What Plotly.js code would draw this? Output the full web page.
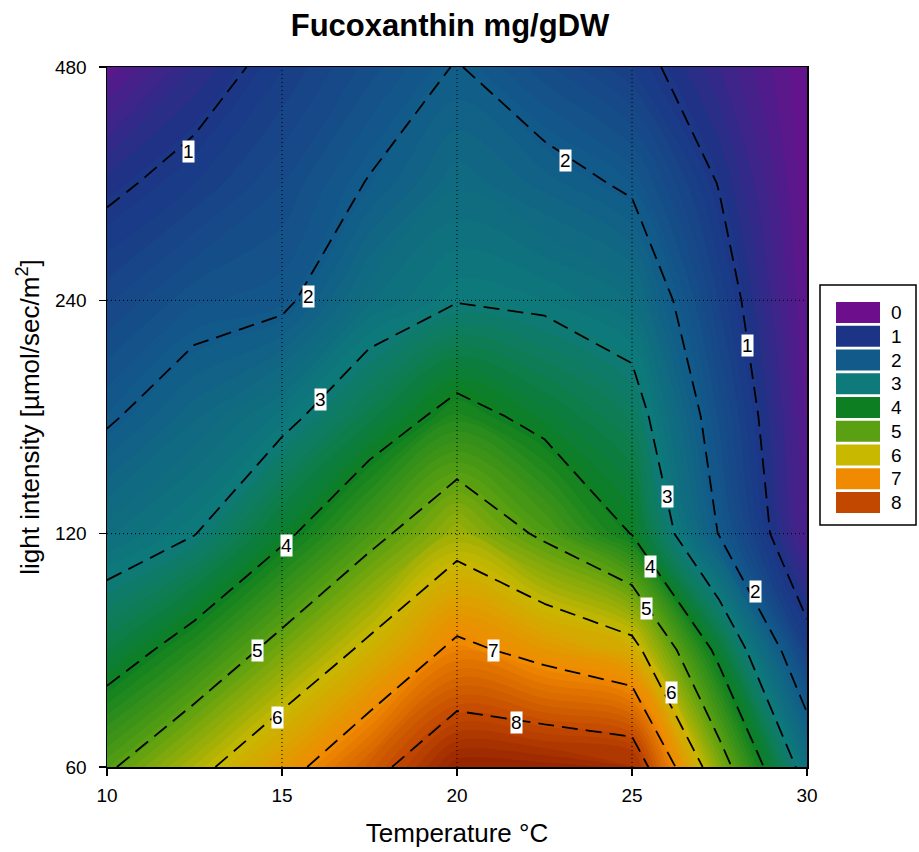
<!DOCTYPE html>
<html>
<head>
<meta charset="utf-8">
<script src="https://cdn.plot.ly/plotly-3.0.1.min.js"></script>
<style>
  html, body { margin: 0; padding: 0; background: #ffffff; }
  #chart { width: 919px; height: 852px; }
</style>
</head>
<body>
<div id="chart"></div>
<script>
// ---- data ----
const temperature = [10, 12.5, 15, 17.5, 20, 22.5, 25, 27.5, 30];
const lightIntensity = [60, 85, 120, 170, 240, 340, 480];

// Fucoxanthin (mg/gDW) for each light intensity row, across temperatures
const fxAt60  = [4.9, 5.78, 6.7, 7.74, 8.75, 8.72, 8.6, 5.38, 2.65];
const fxAt85  = [3.6, 4.34, 5.26, 6.17, 7.18, 6.74, 6.28, 3.77, 1.25];
const fxAt120 = [2.6, 2.98, 3.85, 4.78, 5.64, 4.87, 3.98, 1.96, 0.3];
const fxAt170 = [1.93, 2.37, 2.82, 3.54, 4.26, 3.79, 3.32, 1.64, 0.2];
const fxAt240 = [1.42, 1.77, 1.88, 2.62, 2.97, 2.88, 2.62, 1.30, 0.1];
const fxAt340 = [0.89, 1.2, 1.56, 2.03, 2.49, 2.23, 1.91, 0.97, 0.03];
const fxAt480 = [0.15, 0.72, 1.19, 1.62, 2.03, 1.59, 1.2, 0.6, 0.0];

const xTickValues = [10, 15, 20, 25, 30];
const yTickValues = [60, 120, 240, 480];

const legendLabels = ['0', '1', '2', '3', '4', '5', '6', '7', '8'];
const legendColors = ['#6d0f8d', '#1c3486', '#125a8a', '#0e7a7a', '#0d7f22',
                      '#5aa012', '#c8b800', '#f08a00', '#c24800'];

// contour labels (text, temperature, light)
const contourLabelText  = ['1', '2', '2', '1', '3', '3', '4', '4', '5', '5', '2', '6', '6', '7', '8'];
const contourLabelTemp  = [12.34, 15.77, 23.11, 28.31, 16.11, 26.0, 15.14, 25.54, 14.31, 25.4, 28.54, 14.86, 26.14, 21.03, 21.71];
const contourLabelLight = [374, 243, 364, 210, 179, 134, 115.9, 109, 84.9, 96, 101, 69.6, 74.9, 84.9, 68.4];

// ---- build ----
const fucoxanthin = [fxAt60, fxAt85, fxAt120, fxAt170, fxAt240, fxAt340, fxAt480];
const toY = v => Math.log2(v / 60);   // light axis is doubling-spaced
const yVals = lightIntensity.map(toY);

const colorscale = [
  [0 / 9, '#6d0f8d'],
  [1 / 9, '#1c3486'],
  [2 / 9, '#125a8a'],
  [3 / 9, '#0e7a7a'],
  [4 / 9, '#0d7f22'],
  [5 / 9, '#5aa012'],
  [6 / 9, '#c8b800'],
  [7 / 9, '#f08a00'],
  [8 / 9, '#c24800'],
  [9 / 9, '#7f1200']
];

const fillTrace = {
  type: 'contour',
  x: temperature,
  y: yVals,
  z: fucoxanthin,
  colorscale: colorscale,
  autocontour: false,
  contours: { start: 0, end: 9, size: 0.12, coloring: 'fill', showlines: false },
  line: { width: 0 },
  showscale: false,
  hoverinfo: 'skip'
};

const lineTrace = {
  type: 'contour',
  x: temperature,
  y: yVals,
  z: fucoxanthin,
  autocontour: false,
  contours: { start: 1, end: 8, size: 1, coloring: 'none' },
  line: { color: '#000000', width: 1.8, dash: '16px,8px', smoothing: 0 },
  showscale: false,
  hoverinfo: 'skip'
};

const FONT = '"Liberation Sans", Arial, sans-serif';
const shapes = [];
const annotations = [];

// dotted grid lines drawn over the fill
xTickValues.slice(1, -1).forEach(t => shapes.push({
  type: 'line', xref: 'x', yref: 'paper', x0: t, x1: t, y0: 0, y1: 1,
  line: { color: '#000000', width: 1, dash: '1px,3px' }, layer: 'above'
}));
yTickValues.slice(1, -1).forEach(v => shapes.push({
  type: 'line', xref: 'paper', yref: 'y', x0: 0, x1: 1, y0: toY(v), y1: toY(v),
  line: { color: '#000000', width: 1, dash: '1px,3px' }, layer: 'above'
}));

// contour labels
contourLabelText.forEach((t, i) => annotations.push({
  x: contourLabelTemp[i], y: toY(contourLabelLight[i]), xref: 'x', yref: 'y',
  text: t, showarrow: false, bgcolor: '#ffffff', borderpad: 0,
  font: { family: FONT, size: 19, color: '#000000' }
}));

// custom legend box
const px2x = p => (p - 107) / 700;
const py2y = p => (767 - p) / 700;
shapes.push({
  type: 'rect', xref: 'paper', yref: 'paper',
  x0: px2x(820), x1: px2x(916), y0: py2y(525), y1: py2y(285),
  line: { color: '#000000', width: 1.5 }, fillcolor: '#ffffff'
});
legendLabels.forEach((lab, i) => {
  const top = 302 + 23.75 * i;
  shapes.push({
    type: 'rect', xref: 'paper', yref: 'paper',
    x0: px2x(836), x1: px2x(880), y0: py2y(top + 21), y1: py2y(top),
    line: { width: 0 }, fillcolor: legendColors[i]
  });
  annotations.push({
    xref: 'paper', yref: 'paper', x: px2x(889), y: py2y(top + 10.5),
    xanchor: 'left', yanchor: 'middle', text: lab, showarrow: false,
    font: { family: FONT, size: 19, color: '#000000' }
  });
});

const layout = {
  width: 919, height: 852,
  margin: { l: 107, r: 112, t: 67, b: 85 },
  paper_bgcolor: '#ffffff', plot_bgcolor: '#ffffff',
  font: { family: FONT, color: '#000000' },
  title: {
    text: '<b>Fucoxanthin mg/gDW</b>',
    font: { family: FONT, size: 31, color: '#000000' },
    x: 450 / 919, xref: 'container', xanchor: 'center',
    y: 1 - 25 / 852, yref: 'container', yanchor: 'middle'
  },
  xaxis: {
    range: [10, 30], tickvals: xTickValues, ticktext: xTickValues.map(String),
    ticks: 'outside', ticklen: 7, tickwidth: 1.5, tickcolor: '#000000',
    ticklabelstandoff: 4,
    showline: true, linecolor: '#000000', linewidth: 1.5, mirror: true,
    showgrid: false, zeroline: false,
    tickfont: { family: FONT, size: 19, color: '#000000' },
    title: { text: 'Temperature °C', font: { family: FONT, size: 26, color: '#000000' }, standoff: 18 }
  },
  yaxis: {
    range: [0, 3], tickvals: yTickValues.map(toY), ticktext: yTickValues.map(String),
    ticks: 'outside', ticklen: 7, tickwidth: 1.5, tickcolor: '#000000',
    ticklabelstandoff: 8,
    showline: true, linecolor: '#000000', linewidth: 1.5, mirror: true,
    showgrid: false, zeroline: false,
    tickfont: { family: FONT, size: 19, color: '#000000' },
    title: { text: 'light intensity [µmol/sec/m<sup>2</sup>]', font: { family: FONT, size: 26, color: '#000000' }, standoff: 8 }
  },
  shapes: shapes,
  annotations: annotations,
  showlegend: false
};

Plotly.newPlot('chart', [fillTrace, lineTrace], layout, { displayModeBar: false, staticPlot: true });
</script>
</body>
</html>
